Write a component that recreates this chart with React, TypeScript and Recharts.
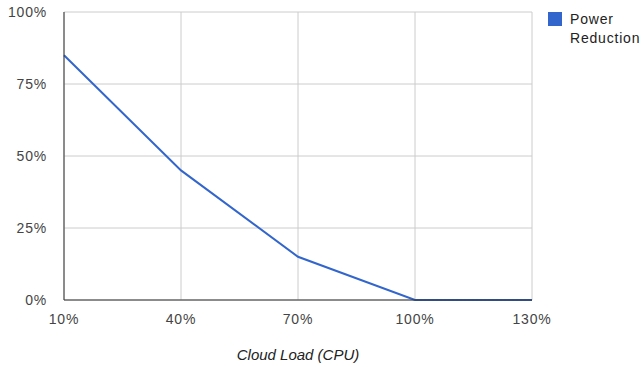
import React from 'react';
import {
  LineChart,
  Line,
  XAxis,
  YAxis,
  CartesianGrid,
  Label
} from 'recharts';

const cloudLoad = [10, 40, 70, 100, 130];
const powerReduction = [85, 45, 15, 0, 0];
const xTicks = [10, 40, 70, 100, 130];
const yTicks = [0, 25, 50, 75, 100];

const data = cloudLoad.map((load, i) => ({ load, power: powerReduction[i] }));

const FONT = '"Liberation Sans", Arial, sans-serif';
const BLUE = '#3366cc';

export default function App() {
  return (
    <div style={{ position: 'absolute', left: 0, top: 0, width: 641, height: 367, background: '#fff', fontFamily: FONT }}>
      <LineChart
        width={641}
        height={367}
        data={data}
        margin={{ top: 12, right: 109, left: 4, bottom: 37 }}
      >
        <CartesianGrid stroke="#cccccc" />
        <XAxis
          dataKey="load"
          type="number"
          domain={[10, 130]}
          ticks={xTicks}
          tickFormatter={(v) => `${v}%`}
          tickLine={false}
          tickMargin={8}
          height={30}
          stroke="#333333"
          tick={{ fill: '#444444', fontSize: 14, fontFamily: FONT, letterSpacing: 0.8 }}
        >
          <Label
            value="Cloud Load (CPU)"
            position="insideBottom"
            offset={-30}
            style={{ fill: '#222222', fontSize: 15, fontStyle: 'italic', fontFamily: FONT }}
          />
        </XAxis>
        <YAxis
          type="number"
          domain={[0, 100]}
          ticks={yTicks}
          tickFormatter={(v) => `${v}%`}
          tickLine={false}
          tickMargin={11}
          width={60}
          stroke="#333333"
          tick={{ fill: '#444444', fontSize: 14, fontFamily: FONT, letterSpacing: 0.8 }}
        />
        <Line
          type="linear"
          dataKey="power"
          stroke={BLUE}
          strokeWidth={2}
          dot={false}
          isAnimationActive={false}
        />
      </LineChart>
      <div style={{ position: 'absolute', left: 548, top: 12, display: 'flex', alignItems: 'flex-start' }}>
        <div style={{ width: 14, height: 14, background: BLUE }} />
        <div style={{ marginLeft: 8, marginTop: -2, fontSize: 14, lineHeight: '19px', color: '#222222', letterSpacing: 0.8 }}>
          Power<br />Reduction
        </div>
      </div>
    </div>
  );
}
